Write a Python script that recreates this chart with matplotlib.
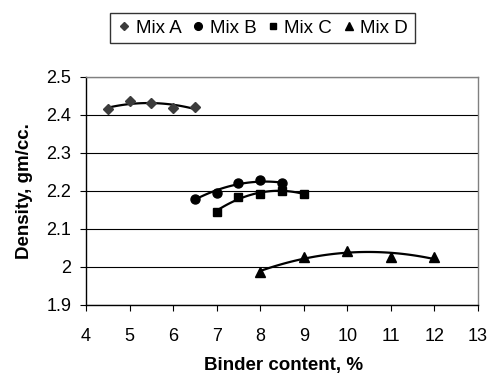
import numpy as np
import matplotlib
matplotlib.use("Agg")
import matplotlib.pyplot as plt
from matplotlib.lines import Line2D

plt.rcParams['font.family'] = ['Liberation Sans', 'DejaVu Sans']

mix_a_x = [4.5, 5.0, 5.5, 6.0, 6.5]
mix_a_y = [2.415, 2.437, 2.432, 2.418, 2.420]
mix_b_x = [6.5, 7.0, 7.5, 8.0, 8.5]
mix_b_y = [2.180, 2.196, 2.220, 2.228, 2.220]
mix_c_x = [7.0, 7.5, 8.0, 8.5, 9.0]
mix_c_y = [2.146, 2.184, 2.192, 2.200, 2.193]
mix_d_x = [8.0, 9.0, 10.0, 11.0, 12.0]
mix_d_y = [1.987, 2.025, 2.043, 2.027, 2.025]

series = [
    ("Mix A", mix_a_x, mix_a_y, "D", 5.0, "#3c3c3c"),
    ("Mix B", mix_b_x, mix_b_y, "o", 6.5, "black"),
    ("Mix C", mix_c_x, mix_c_y, "s", 5.5, "black"),
    ("Mix D", mix_d_x, mix_d_y, "^", 7.0, "black"),
]

W, H = 494, 381
fig = plt.figure(figsize=(W / 100, H / 100), dpi=100)
L, R, T, B = 86, 478, 77, 305
ax = fig.add_axes([L / W, 1 - B / H, (R - L) / W, (B - T) / H])

handles = []
for name, xs, ys, mk, ms, col in series:
    coef = np.polyfit(xs, ys, 2)
    xx = np.linspace(min(xs), max(xs), 100)
    ax.plot(xx, np.polyval(coef, xx), color="black", lw=1.6, zorder=3)
    ax.plot(xs, ys, linestyle="none", marker=mk, ms=ms, color=col, zorder=4)
    handles.append(Line2D([], [], linestyle="none", marker=mk, ms=ms * 0.85, color=col))

ax.set_xlim(4, 13)
ax.set_ylim(1.9, 2.5)
ax.set_xticks(np.arange(4, 14, 1))
ax.set_yticks([1.9, 2.0, 2.1, 2.2, 2.3, 2.4, 2.5])
ax.set_yticklabels(["1.9", "2", "2.1", "2.2", "2.3", "2.4", "2.5"])
ax.grid(axis="y", color="black", lw=0.8)
ax.set_axisbelow(True)
for s in ["top", "right"]:
    ax.spines[s].set_color("#808080")
    ax.spines[s].set_linewidth(1.0)
for s in ["left", "bottom"]:
    ax.spines[s].set_color("black")
    ax.spines[s].set_linewidth(1.0)
ax.tick_params(axis="both", direction="out", length=4.5, width=0.8, labelsize=13, colors="black")
ax.tick_params(axis="x", pad=12)
ax.tick_params(axis="y", pad=6)

ax.set_xlabel("Binder content, %", fontsize=13.5, fontweight="bold")
ax.set_ylabel("Density, gm/cc.", fontsize=13.5, fontweight="bold")
ax.xaxis.set_label_coords(0.505, -0.228)
ax.yaxis.set_label_coords(-0.135, 0.5)

leg = fig.legend(handles, [s[0] for s in series], loc="center",
                 bbox_to_anchor=(262.5 / W, 1 - 28 / H), bbox_transform=fig.transFigure,
                 ncol=4, fontsize=13.5, frameon=True, fancybox=False,
                 handlelength=0.8, handletextpad=0.2, columnspacing=0.5,
                 borderpad=0.35, borderaxespad=0)
leg.get_frame().set_edgecolor("black")
leg.get_frame().set_linewidth(1.0)

fig.savefig("out.png", dpi=100)
